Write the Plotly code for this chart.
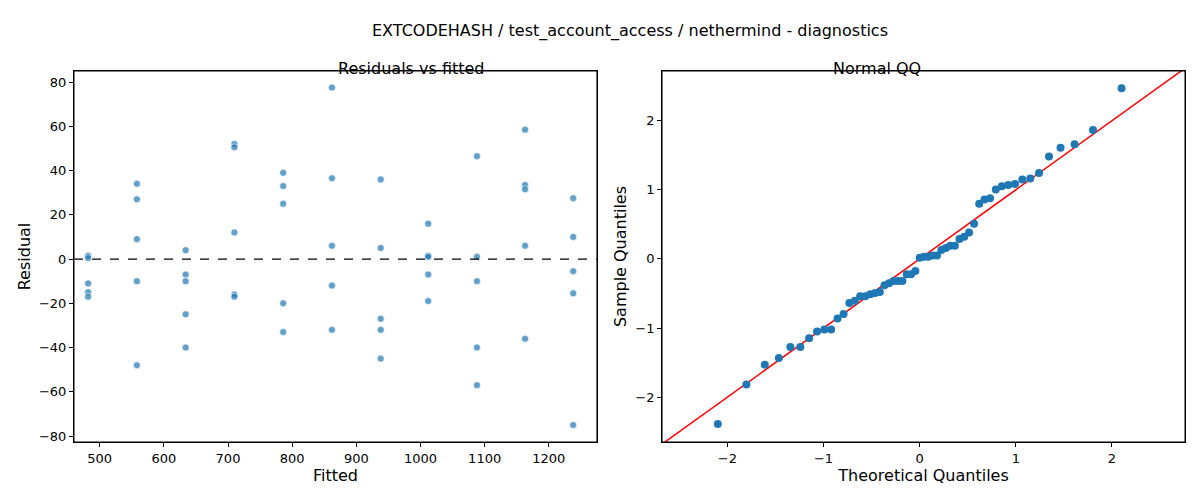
import numpy as np
import plotly.graph_objects as go
from statistics import NormalDist

fitted_levels = [482, 558, 634, 710, 786, 862, 938, 1012, 1088, 1163, 1238]
residual_groups = [
    [1.5, 0.5, -11, -15, -17],
    [34, 27, 9, -10, -48],
    [4, -7, -10, -25, -40],
    [52, 50.5, 12, -16, -17],
    [39, 33, 25, -20, -33],
    [77.5, 36.5, 6, -12, -32],
    [36, 5, -27, -32, -45],
    [16, 1.5, 1, -7, -19],
    [46.5, 1, -10, -40, -57],
    [58.5, 33.5, 31.5, 6, -36],
    [27.5, 10, -5.5, -15.5, -75],
]

fitted = [f for f, g in zip(fitted_levels, residual_groups) for _ in g]
resid = [r for g in residual_groups for r in g]

r = np.array(resid)
sample_q = np.sort((r - r.mean()) / r.std(ddof=1))
n = len(sample_q)
theo_q = np.array([NormalDist().inv_cdf(i / (n + 1)) for i in range(1, n + 1)])

fig = go.Figure()
fig.add_trace(go.Scatter(x=fitted, y=resid, mode="markers", xaxis="x", yaxis="y",
    marker=dict(size=7, color="rgba(31,119,180,0.7)", line=dict(color="white", width=0.6)),
    showlegend=False))
fig.add_trace(go.Scatter(x=[460, 1275], y=[0, 0], mode="lines", xaxis="x", yaxis="y",
    line=dict(color="black", width=1.3, dash="dash"), showlegend=False))
fig.add_trace(go.Scatter(x=[-3, 3], y=[-3, 3], mode="lines", xaxis="x2", yaxis="y2",
    line=dict(color="red", width=1.5), showlegend=False))
fig.add_trace(go.Scatter(x=theo_q, y=sample_q, mode="markers", xaxis="x2", yaxis="y2",
    marker=dict(size=8, color="#1f77b4"), showlegend=False))

ax = dict(showline=True, linecolor="black", linewidth=1, mirror=True, ticks="outside",
          ticklen=4, tickcolor="black", showgrid=False, zeroline=False,
          tickfont=dict(size=13, color="black"))
fig.update_layout(
    width=1200, height=500, plot_bgcolor="white", paper_bgcolor="white",
    font=dict(family="DejaVu Sans", color="black", size=13),
    margin=dict(l=66, r=23, t=63, b=66),
    xaxis=dict(ax, domain=[0, 0.4707], range=[460, 1275], dtick=100,
               title=dict(text="Fitted", standoff=4)),
    yaxis=dict(ax, range=[-82.7, 85], dtick=20, title=dict(text="Residual", standoff=4)),
    xaxis2=dict(ax, domain=[0.5293, 1], range=[-2.68, 2.76], dtick=1, anchor="y2",
                title=dict(text="Theoretical Quantiles", standoff=4)),
    yaxis2=dict(ax, range=[-2.65, 2.72], dtick=1, anchor="x2",
                title=dict(text="Sample Quantiles", standoff=4)),
    shapes=[
        dict(type="rect", xref="x domain", yref="y domain", x0=0, x1=1, y0=0, y1=1,
             line=dict(color="black", width=1), layer="above"),
        dict(type="rect", xref="x2 domain", yref="y2 domain", x0=0, x1=1, y0=0, y1=1,
             line=dict(color="black", width=1), layer="above"),
    ],
    annotations=[
        dict(text="EXTCODEHASH / test_account_access / nethermind - diagnostics", x=0.5, y=1,
             xref="paper", yref="paper", yshift=52, showarrow=False, font=dict(size=16)),
        dict(text="Residuals vs fitted", x=0.2354, y=1, xref="paper", yref="paper",
             yshift=14, showarrow=False, font=dict(size=16)),
        dict(text="Normal QQ", x=0.7646, y=1, xref="paper", yref="paper",
             yshift=14, showarrow=False, font=dict(size=16)),
    ],
)
fig.write_html("out.html")
